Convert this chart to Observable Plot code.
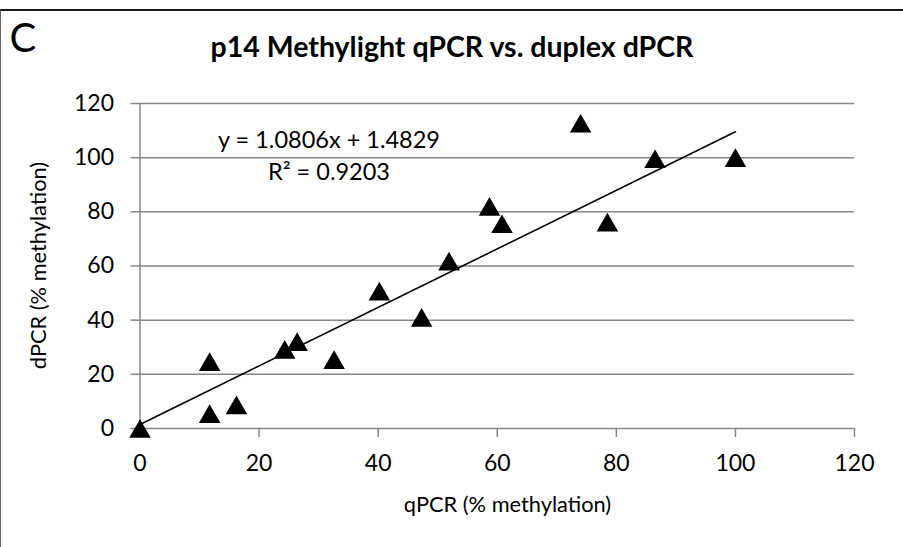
<!DOCTYPE html>
<html>
<head>
<meta charset="utf-8">
<script src="https://cdn.jsdelivr.net/npm/d3@7"></script>
<script src="https://cdn.jsdelivr.net/npm/@observablehq/plot@0.6"></script>
<style>
  html, body { margin: 0; padding: 0; background: #fff; }
  #wrap { position: relative; width: 903px; height: 547px; overflow: hidden; }
  #frame { position: absolute; left: 0; top: 9px; width: 903px; height: 600px;
           border-top: 2px solid #1a1a1a; border-left: 1px solid #666; box-sizing: border-box; pointer-events: none; }
  svg { font-family: Lato, "Open Sans", sans-serif; }
</style>
</head>
<body>
<div id="wrap"><div id="frame"></div></div>
<script>
// Data
const qpcr = [0, 11.7, 11.7, 16.2, 24.3, 26.4, 32.6, 40.2, 47.3, 51.9, 58.7, 60.8, 74.0, 78.5, 86.5, 100.0];
const dpcr = [0, 24.7, 5.5, 8.7, 29.2, 32.1, 25.4, 50.7, 41.0, 61.8, 82.0, 75.6, 112.7, 76.2, 99.6, 100.0];
const fitSlope = 1.0806;
const fitIntercept = 1.4829;
const fitRange = [0, 100];
const ticks = [0, 20, 40, 60, 80, 100, 120];
const title = "p14 Methylight qPCR vs. duplex dPCR";
const panelLetter = "C";
const xLabel = "qPCR (% methylation)";
const yLabel = "dPCR (% methylation)";
const eqLine1 = "y = 1.0806x + 1.4829";
const eqLine2 = "R² = 0.9203";

const points = qpcr.map((x, i) => ({x, y: dpcr[i]}));
const fit = fitRange.map(x => ({x, y: fitSlope * x + fitIntercept}));

const grey = "#888888";
const mL = 139.5, mR = 49, mT = 103, mB = 119, W = 903, H = 547;
const fx = (px) => px - mL;   // offsets from frame left
const fy = (py) => py - mT;   // offsets from frame top
const label = (txt, px, py, opts) => Plot.text([txt], {frameAnchor: "top-left", textAnchor: "middle", lineAnchor: "middle", dx: fx(px), dy: fy(py), text: d => d, fill: "black", ...opts});

const chart = Plot.plot({
  width: W, height: H,
  marginLeft: mL, marginRight: mR, marginTop: mT, marginBottom: mB,
  style: {fontFamily: "Lato, 'Open Sans', sans-serif", background: "transparent", color: "black"},
  x: {domain: [0, 120], ticks},
  y: {domain: [0, 120], ticks},
  marks: [
    Plot.ruleY(ticks, {stroke: grey, strokeWidth: 1.5}),
    Plot.ruleX([0], {stroke: grey, strokeWidth: 1.5}),
    Plot.axisY({ticks, tickSize: 9, tickPadding: 17, stroke: grey, strokeWidth: 1.5, fill: "black", fontSize: 23, label: null}),
    Plot.axisX({ticks, tickSize: 9, tickPadding: 17, stroke: grey, strokeWidth: 1.5, fill: "black", fontSize: 23, label: null}),
    Plot.line(fit, {x: "x", y: "y", stroke: "black", strokeWidth: 1.6}),
    Plot.dot(points, {x: "x", y: "y", symbol: "triangle", r: 8, fill: "black", stroke: "none", dy: 3.1}),
    label(title, 451.5, 47, {fontSize: 28.5, fontWeight: "bold"}),
    label(panelLetter, 9, 38.5, {textAnchor: "start", fontSize: 40}),
    label(eqLine1, 328.5, 139.5, {fontSize: 23.5}),
    label(eqLine2, 328.5, 172, {fontSize: 23.5}),
    label(xLabel, 507, 505, {fontSize: 21.8}),
    label(yLabel, 39, 265, {fontSize: 21.8, rotate: -90})
  ]
});
document.getElementById("wrap").appendChild(chart);
</script>
</body>
</html>
